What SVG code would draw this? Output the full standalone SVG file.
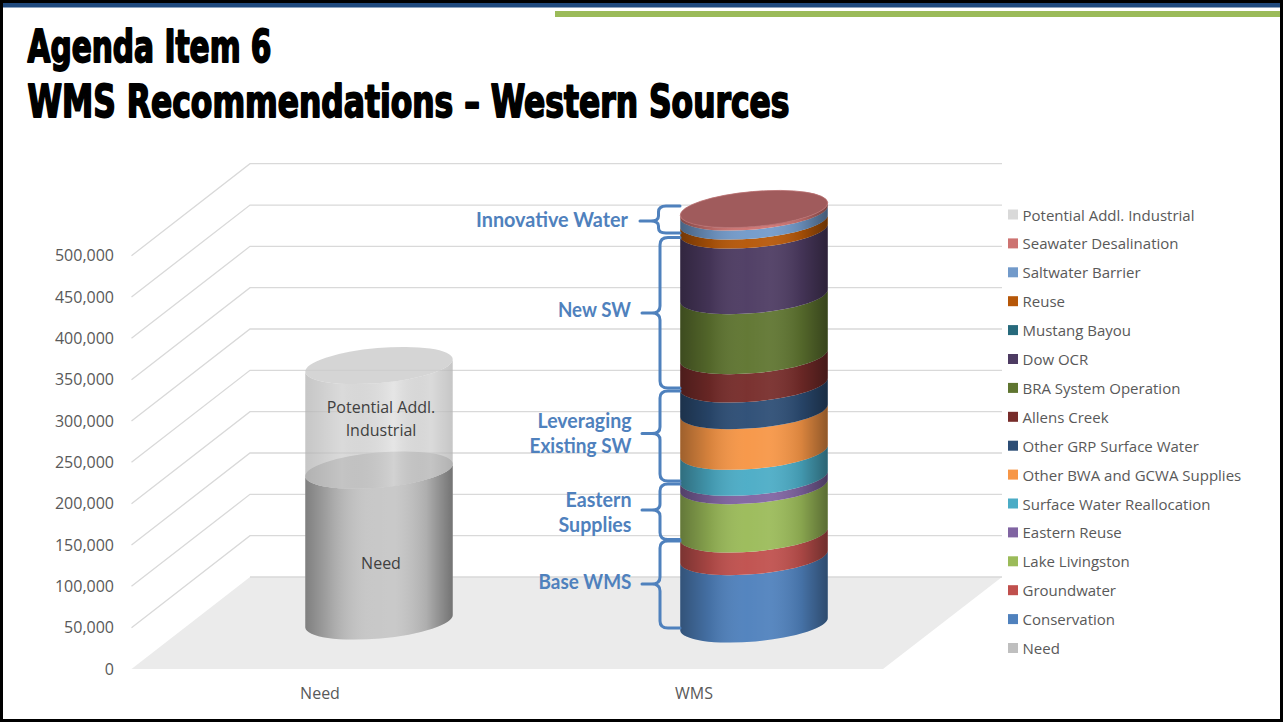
<svg xmlns="http://www.w3.org/2000/svg" width="1283" height="722" viewBox="0 0 1283 722">
<style>
.grid{stroke:#d9d9d9;stroke-width:1.3;fill:none}
.ax{font-family:"Open Sans","DejaVu Sans",sans-serif;font-size:16px;fill:#595959}
.lg{font-family:"Open Sans","DejaVu Sans",sans-serif;font-size:15px;fill:#595959}
.inl{font-family:"Open Sans","DejaVu Sans",sans-serif;font-size:16px;fill:#404040}
.br{fill:none;stroke:#4f81bd;stroke-width:3;stroke-linejoin:round;stroke-linecap:round}
.bl{font-family:Lato,"Open Sans",sans-serif;font-weight:bold;font-size:21px;fill:#4f81bd}
.ttl{font-family:"DejaVu Sans Condensed","DejaVu Sans",sans-serif;font-stretch:condensed;font-weight:bold;font-size:44px;fill:#000;stroke:#000;stroke-width:1.8;stroke-linejoin:round}
</style>
<defs>
<linearGradient id="shade" x1="0" y1="0" x2="1" y2="0">
<stop offset="0" stop-color="#000" stop-opacity="0.36"/>
<stop offset="0.2" stop-color="#000" stop-opacity="0.13"/>
<stop offset="0.45" stop-color="#fff" stop-opacity="0.03"/>
<stop offset="0.6" stop-color="#fff" stop-opacity="0.06"/>
<stop offset="0.82" stop-color="#000" stop-opacity="0.12"/>
<stop offset="1" stop-color="#000" stop-opacity="0.42"/>
</linearGradient>
<linearGradient id="soft" x1="0" y1="0" x2="1" y2="0">
<stop offset="0" stop-color="#000" stop-opacity="0.12"/>
<stop offset="0.25" stop-color="#000" stop-opacity="0.03"/>
<stop offset="0.6" stop-color="#fff" stop-opacity="0.15"/>
<stop offset="0.85" stop-color="#000" stop-opacity="0.03"/>
<stop offset="1" stop-color="#000" stop-opacity="0.12"/>
</linearGradient>
</defs>
<rect x="0" y="0" width="1283" height="722" fill="#fff"/>
<rect x="0" y="3" width="1283" height="4.5" fill="#1f497d"/>
<rect x="555" y="11" width="725" height="6" fill="#9bbb59"/>
<g id="title">
<text class="ttl" x="27.5" y="62" textLength="244" lengthAdjust="spacingAndGlyphs">Agenda Item 6</text>
<text class="ttl" x="27.5" y="117" textLength="762" lengthAdjust="spacingAndGlyphs">WMS Recommendations – Western Sources</text>
</g>
<g id="chart-walls">
<polygon points="131.5,669 250,577 1002,577 883,669" fill="#ebebeb"/>
<line class="grid" x1="250" y1="577" x2="1002" y2="577"/>
<g class="grid">
<polyline points="131.5,627.67 250,535.67 1002,535.67"/>
<polyline points="131.5,586.34 250,494.34 1002,494.34"/>
<polyline points="131.5,545.01 250,453.01 1002,453.01"/>
<polyline points="131.5,503.68 250,411.68 1002,411.68"/>
<polyline points="131.5,462.35 250,370.35 1002,370.35"/>
<polyline points="131.5,421.02 250,329.02 1002,329.02"/>
<polyline points="131.5,379.69 250,287.69 1002,287.69"/>
<polyline points="131.5,338.36 250,246.36 1002,246.36"/>
<polyline points="131.5,297.03 250,205.03 1002,205.03"/>
<polyline points="131.5,255.7 250,163.7 1002,163.7"/>
</g>
</g>
<g id="y-axis" text-anchor="end">
<text class="ax" x="114" y="674.7">0</text>
<text class="ax" x="114" y="633.4">50,000</text>
<text class="ax" x="114" y="592">100,000</text>
<text class="ax" x="114" y="550.7">150,000</text>
<text class="ax" x="114" y="509.4">200,000</text>
<text class="ax" x="114" y="468">250,000</text>
<text class="ax" x="114" y="426.7">300,000</text>
<text class="ax" x="114" y="385.4">350,000</text>
<text class="ax" x="114" y="344">400,000</text>
<text class="ax" x="114" y="302.7">450,000</text>
<text class="ax" x="114" y="261.4">500,000</text>
</g>
<g id="x-axis" text-anchor="middle">
<text class="ax" x="320" y="699">Need</text>
<text class="ax" x="694" y="699">WMS</text>
</g>
<g id="need-column">
<path d="M305.28,627.45 L305.28,476.45 A74,17.5,-5,0,0,452.72,463.55 L452.72,614.55 A74,17.5,-5,0,1,305.28,627.45Z" fill="#c6c6c6"/>
<path d="M305.28,627.45 L305.28,476.45 A74,17.5,-5,0,0,452.72,463.55 L452.72,614.55 A74,17.5,-5,0,1,305.28,627.45Z" fill="url(#shade)"/>
<ellipse cx="379" cy="470" rx="74" ry="17.5" transform="rotate(-5 379 470)" fill="#ababab"/>
<path d="M305.28,476.45 L305.28,371.95 A74,17.5,-5,0,0,452.72,359.05 L452.72,463.55 A74,17.5,-5,0,1,305.28,476.45Z" fill="#d6d6d6" fill-opacity="0.72"/>
<path d="M305.28,476.45 L305.28,371.95 A74,17.5,-5,0,0,452.72,359.05 L452.72,463.55 A74,17.5,-5,0,1,305.28,476.45Z" fill="url(#soft)"/>
<ellipse cx="379" cy="365.5" rx="74" ry="17.5" transform="rotate(-5 379 365.5)" fill="#cbcbcb" fill-opacity="0.8"/>
<g text-anchor="middle">
<text class="inl" x="381" y="413.3">Potential Addl.</text>
<text class="inl" x="381" y="435.7">Industrial</text>
<text class="inl" x="381" y="569.3">Need</text>
</g>
</g>
<g id="wms-column">
<path d="M680.28,630.45 L680.28,563.15 A74,17.5,-5,0,0,827.72,550.25 L827.72,617.55 A74,17.5,-5,0,1,680.28,630.45Z" fill="#4f81bd"/>
<path d="M680.28,563.15 L680.28,540.45 A74,17.5,-5,0,0,827.72,527.55 L827.72,550.25 A74,17.5,-5,0,1,680.28,563.15Z" fill="#c0504d"/>
<path d="M680.28,540.45 L680.28,492.15 A74,17.5,-5,0,0,827.72,479.25 L827.72,527.55 A74,17.5,-5,0,1,680.28,540.45Z" fill="#9bbb59"/>
<path d="M680.28,492.15 L680.28,483.75 A74,17.5,-5,0,0,827.72,470.85 L827.72,479.25 A74,17.5,-5,0,1,680.28,492.15Z" fill="#8064a2"/>
<path d="M680.28,483.75 L680.28,457.75 A74,17.5,-5,0,0,827.72,444.85 L827.72,470.85 A74,17.5,-5,0,1,680.28,483.75Z" fill="#4bacc6"/>
<path d="M680.28,457.75 L680.28,417.15 A74,17.5,-5,0,0,827.72,404.25 L827.72,444.85 A74,17.5,-5,0,1,680.28,457.75Z" fill="#f79646"/>
<path d="M680.28,417.15 L680.28,390.45 A74,17.5,-5,0,0,827.72,377.55 L827.72,404.25 A74,17.5,-5,0,1,680.28,417.15Z" fill="#2c4d75"/>
<path d="M680.28,390.45 L680.28,362.15 A74,17.5,-5,0,0,827.72,349.25 L827.72,377.55 A74,17.5,-5,0,1,680.28,390.45Z" fill="#772c2a"/>
<path d="M680.28,362.15 L680.28,302.15 A74,17.5,-5,0,0,827.72,289.25 L827.72,349.25 A74,17.5,-5,0,1,680.28,362.15Z" fill="#5f7530"/>
<path d="M680.28,302.15 L680.28,236.45 A74,17.5,-5,0,0,827.72,223.55 L827.72,289.25 A74,17.5,-5,0,1,680.28,302.15Z" fill="#4d3b62"/>
<path d="M680.28,236.45 L680.28,227.45 A74,17.5,-5,0,0,827.72,214.55 L827.72,223.55 A74,17.5,-5,0,1,680.28,236.45Z" fill="#b65708"/>
<path d="M680.28,227.45 L680.28,218.45 A74,17.5,-5,0,0,827.72,205.55 L827.72,214.55 A74,17.5,-5,0,1,680.28,227.45Z" fill="#729aca"/>
<path d="M680.28,218.45 L680.28,215.45 A74,17.5,-5,0,0,827.72,202.55 L827.72,205.55 A74,17.5,-5,0,1,680.28,218.45Z" fill="#cd7371"/>
<path d="M680.28,630.45 L680.28,215.45 A74,17.5,-5,0,0,827.72,202.55 L827.72,617.55 A74,17.5,-5,0,1,680.28,630.45Z" fill="url(#shade)"/>
<ellipse cx="754" cy="209" rx="74" ry="17.5" transform="rotate(-5 754 209)" fill="#a05b5c" stroke="#b86e6f" stroke-width="0.8"/>
</g>
<g id="connectors">
<path class="br" d="M680,206 L666,206 Q658.5,206 658.5,212 L658.5,216 Q658.5,221 651,221 L640,221 M651,221 Q658.5,221 658.5,226 L658.5,228 Q658.5,233 666,233 L680,233"/>
<path class="br" d="M680,237.5 L668,237.5 Q660,237.5 660,245 L660,306 Q660,313 652,313 L642,313 M652,313 Q660,313 660,320 L660,381 Q660,388 668,388 L680,388"/>
<path class="br" d="M680,391 L668,391 Q660,391 660,398 L660,427 Q660,433.5 652,433.5 L642,433.5 M652,433.5 Q660,433.5 660,440 L660,474 Q660,481 668,481 L680,481"/>
<path class="br" d="M680,484 L668,484 Q660,484 660,491 L660,504 Q660,510 652,510 L642,510 M652,510 Q660,510 660,516 L660,532.5 Q660,539.5 668,539.5 L680,539.5"/>
<path class="br" d="M680,541 L668,541 Q660,541 660,548 L660,577 Q660,584 652,584 L642,584 M652,584 Q660,584 660,591 L660,621 Q660,628 668,628 L680,628"/>
</g>
<g id="bracket-labels" text-anchor="end">
<text class="bl" x="628" y="227.3" textLength="152" lengthAdjust="spacingAndGlyphs">Innovative Water</text>
<text class="bl" x="631" y="316.7" textLength="73" lengthAdjust="spacingAndGlyphs">New SW</text>
<text class="bl" x="631.5" y="428" textLength="94" lengthAdjust="spacingAndGlyphs">Leveraging</text>
<text class="bl" x="631.5" y="453" textLength="102" lengthAdjust="spacingAndGlyphs">Existing SW</text>
<text class="bl" x="631.5" y="506.7" textLength="66" lengthAdjust="spacingAndGlyphs">Eastern</text>
<text class="bl" x="631.5" y="531.7" textLength="73" lengthAdjust="spacingAndGlyphs">Supplies</text>
<text class="bl" x="631.5" y="589" textLength="93" lengthAdjust="spacingAndGlyphs">Base WMS</text>
</g>
<g id="legend">
<rect x="1008" y="209.5" width="10" height="10" fill="#d9d9d9"/><text class="lg" x="1022.5" y="220.5">Potential Addl. Industrial</text>
<rect x="1008" y="238.4" width="10" height="10" fill="#cd7371"/><text class="lg" x="1022.5" y="249.4">Seawater Desalination</text>
<rect x="1008" y="267.3" width="10" height="10" fill="#729aca"/><text class="lg" x="1022.5" y="278.3">Saltwater Barrier</text>
<rect x="1008" y="296.2" width="10" height="10" fill="#b65708"/><text class="lg" x="1022.5" y="307.2">Reuse</text>
<rect x="1008" y="325.1" width="10" height="10" fill="#276a7c"/><text class="lg" x="1022.5" y="336.1">Mustang Bayou</text>
<rect x="1008" y="354" width="10" height="10" fill="#4d3b62"/><text class="lg" x="1022.5" y="365">Dow OCR</text>
<rect x="1008" y="382.9" width="10" height="10" fill="#5f7530"/><text class="lg" x="1022.5" y="393.9">BRA System Operation</text>
<rect x="1008" y="411.8" width="10" height="10" fill="#772c2a"/><text class="lg" x="1022.5" y="422.8">Allens Creek</text>
<rect x="1008" y="440.7" width="10" height="10" fill="#2c4d75"/><text class="lg" x="1022.5" y="451.7">Other GRP Surface Water</text>
<rect x="1008" y="469.6" width="10" height="10" fill="#f79646"/><text class="lg" x="1022.5" y="480.6">Other BWA and GCWA Supplies</text>
<rect x="1008" y="498.5" width="10" height="10" fill="#4bacc6"/><text class="lg" x="1022.5" y="509.5">Surface Water Reallocation</text>
<rect x="1008" y="527.4" width="10" height="10" fill="#8064a2"/><text class="lg" x="1022.5" y="538.4">Eastern Reuse</text>
<rect x="1008" y="556.3" width="10" height="10" fill="#9bbb59"/><text class="lg" x="1022.5" y="567.3">Lake Livingston</text>
<rect x="1008" y="585.2" width="10" height="10" fill="#c0504d"/><text class="lg" x="1022.5" y="596.2">Groundwater</text>
<rect x="1008" y="614.1" width="10" height="10" fill="#4f81bd"/><text class="lg" x="1022.5" y="625.1">Conservation</text>
<rect x="1008" y="643" width="10" height="10" fill="#bfbfbf"/><text class="lg" x="1022.5" y="654">Need</text>
</g>
<rect x="1.5" y="1.5" width="1280" height="719" fill="none" stroke="#000" stroke-width="3"/>
</svg>
